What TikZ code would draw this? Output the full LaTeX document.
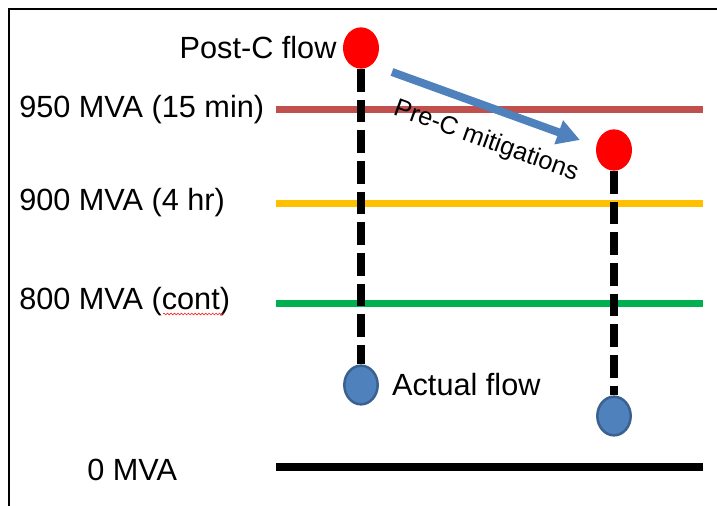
\documentclass[tikz,border=0pt]{standalone}
\usepackage{fontspec}
\setmainfont{Liberation Sans}
\usetikzlibrary{positioning,shapes.geometric,arrows.meta,decorations.pathmorphing}
\definecolor{limred}{HTML}{C0504D}
\definecolor{limyellow}{HTML}{FFC000}
\definecolor{limgreen}{HTML}{00B050}
\definecolor{flowblue}{HTML}{4F81BD}
\definecolor{flowedge}{HTML}{3A6190}
\begin{document}
\begin{tikzpicture}[x=0.75pt, y=-0.75pt,
    lbl/.style={font=\fontsize{23}{27}\selectfont, inner sep=3pt},
    limit/.style={line width=5.25pt},
    hot/.style={ellipse, fill=red, minimum width=27pt, minimum height=31pt, inner sep=0pt},
    cold/.style={ellipse, fill=flowblue, draw=flowedge, line width=1.9pt,
                 minimum width=25pt, minimum height=29pt, inner sep=0pt},
    flowline/.style={line width=5.6pt, dash pattern=on 17pt off 6pt}]
    \useasboundingbox (0,0) rectangle (717,506);
    \draw[line width=1.8pt] (9,506) -- (9,9) -- (717,9);
    % limits
    \draw[limit, limred]    (276,110) -- (703,110);
    \draw[limit, limyellow] (276,203) -- (703,203);
    \draw[limit, limgreen]  (276,303) -- (703,303);
    \draw[line width=6pt]   (276,467) -- (703,467);
    \node[lbl, anchor=west] (l950) at (15,110) {950 MVA (15 min)};
    \node[lbl, anchor=west] (l900) at (15,203) {900 MVA (4 hr)};
    \node[lbl, anchor=west] (l800) at (15,302) {800 MVA (cont)};
    \node[lbl, anchor=west] (l0)   at (83,470) {0 MVA};
    \draw[red!85, line width=0.5pt, decorate,
          decoration={snake, amplitude=0.6pt, segment length=2.6pt}] (163,314) -- (224,314);
    % flows
    \node[hot]  (post) at (361,48)  {};
    \node[hot]  (pre)  at (614,150) {};
    \node[cold] (act)  at (361,385) {};
    \node[cold] (act2) at (614,416) {};
    \node[lbl, left=1.5pt of post]  (postlbl) {Post-C flow};
    \node[lbl, right=6.75pt of act] (actlbl)  {Actual flow};
    \draw[flowline] (post) -- (act);
    \draw[flowline] (pre) -- (act2);
    \coordinate (m1) at (392,72);
    \coordinate (m2) at (580,140);
    \draw[flowblue, line width=6pt, -{Triangle[length=17pt, width=18pt]}] (m1) -- (m2)
        node[pos=.56, sloped, below=10pt, font=\fontsize{19}{23}\selectfont, text=black, inner sep=3pt] (mit) {Pre-C mitigations};
\end{tikzpicture}
\end{document}
